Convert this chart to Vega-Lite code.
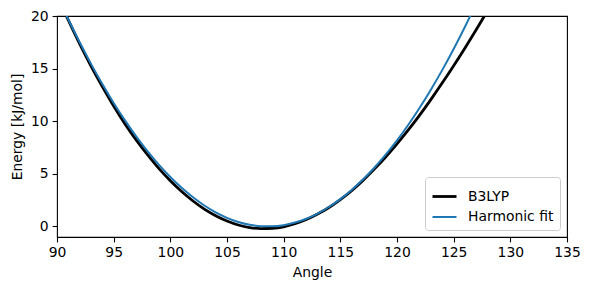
{
  "$schema": "https://vega.github.io/schema/vega-lite/v6.json",
  "autosize": {"type": "none"},
  "width": 510,
  "height": 221,
  "padding": {"left": 57, "top": 16, "right": 23, "bottom": 53},
  "background": "white",
  "config": {
    "font": "DejaVu Sans",
    "view": {"stroke": "black", "strokeWidth": 1.1},
    "axis": {
      "grid": false,
      "domain": false,
      "tickColor": "black",
      "tickWidth": 1.1,
      "tickSize": 4.9,
      "labelColor": "black",
      "labelFontSize": 13.9,
      "labelFont": "DejaVu Sans",
      "labelFlush": false,
      "labelOverlap": false,
      "titleFont": "DejaVu Sans",
      "titleFontSize": 13.9,
      "titleFontWeight": "normal",
      "titleColor": "black",
      "labelPadding": 4
    }
  },
  "data": {
    "values": [
      {"angle": 90, "energy": 22.0, "series": "B3LYP"},
      {"angle": 91, "energy": 19.6, "series": "B3LYP"},
      {"angle": 92, "energy": 17.35, "series": "B3LYP"},
      {"angle": 93, "energy": 15.25, "series": "B3LYP"},
      {"angle": 94, "energy": 13.3, "series": "B3LYP"},
      {"angle": 95, "energy": 11.45, "series": "B3LYP"},
      {"angle": 96, "energy": 9.75, "series": "B3LYP"},
      {"angle": 97, "energy": 8.2, "series": "B3LYP"},
      {"angle": 98, "energy": 6.8, "series": "B3LYP"},
      {"angle": 99, "energy": 5.5, "series": "B3LYP"},
      {"angle": 100, "energy": 4.35, "series": "B3LYP"},
      {"angle": 101, "energy": 3.32, "series": "B3LYP"},
      {"angle": 102, "energy": 2.42, "series": "B3LYP"},
      {"angle": 103, "energy": 1.65, "series": "B3LYP"},
      {"angle": 104, "energy": 1.02, "series": "B3LYP"},
      {"angle": 105, "energy": 0.52, "series": "B3LYP"},
      {"angle": 106, "energy": 0.14, "series": "B3LYP"},
      {"angle": 107, "energy": -0.1, "series": "B3LYP"},
      {"angle": 108, "energy": -0.2, "series": "B3LYP"},
      {"angle": 109, "energy": -0.17, "series": "B3LYP"},
      {"angle": 110, "energy": -0.03, "series": "B3LYP"},
      {"angle": 111, "energy": 0.26, "series": "B3LYP"},
      {"angle": 112, "energy": 0.66, "series": "B3LYP"},
      {"angle": 113, "energy": 1.18, "series": "B3LYP"},
      {"angle": 114, "energy": 1.8, "series": "B3LYP"},
      {"angle": 115, "energy": 2.55, "series": "B3LYP"},
      {"angle": 116, "energy": 3.4, "series": "B3LYP"},
      {"angle": 117, "energy": 4.38, "series": "B3LYP"},
      {"angle": 118, "energy": 5.45, "series": "B3LYP"},
      {"angle": 119, "energy": 6.6, "series": "B3LYP"},
      {"angle": 120, "energy": 7.85, "series": "B3LYP"},
      {"angle": 121, "energy": 9.17, "series": "B3LYP"},
      {"angle": 122, "energy": 10.58, "series": "B3LYP"},
      {"angle": 123, "energy": 12.08, "series": "B3LYP"},
      {"angle": 124, "energy": 13.65, "series": "B3LYP"},
      {"angle": 125, "energy": 15.28, "series": "B3LYP"},
      {"angle": 126, "energy": 16.97, "series": "B3LYP"},
      {"angle": 127, "energy": 18.72, "series": "B3LYP"},
      {"angle": 128, "energy": 20.52, "series": "B3LYP"},
      {"angle": 90, "energy": 21.97, "series": "Harmonic fit"},
      {"angle": 91, "energy": 19.67, "series": "Harmonic fit"},
      {"angle": 92, "energy": 17.5, "series": "Harmonic fit"},
      {"angle": 93, "energy": 15.45, "series": "Harmonic fit"},
      {"angle": 94, "energy": 13.54, "series": "Harmonic fit"},
      {"angle": 95, "energy": 11.74, "series": "Harmonic fit"},
      {"angle": 96, "energy": 10.08, "series": "Harmonic fit"},
      {"angle": 97, "energy": 8.54, "series": "Harmonic fit"},
      {"angle": 98, "energy": 7.13, "series": "Harmonic fit"},
      {"angle": 99, "energy": 5.85, "series": "Harmonic fit"},
      {"angle": 100, "energy": 4.7, "series": "Harmonic fit"},
      {"angle": 101, "energy": 3.67, "series": "Harmonic fit"},
      {"angle": 102, "energy": 2.77, "series": "Harmonic fit"},
      {"angle": 103, "energy": 1.99, "series": "Harmonic fit"},
      {"angle": 104, "energy": 1.34, "series": "Harmonic fit"},
      {"angle": 105, "energy": 0.82, "series": "Harmonic fit"},
      {"angle": 106, "energy": 0.43, "series": "Harmonic fit"},
      {"angle": 107, "energy": 0.16, "series": "Harmonic fit"},
      {"angle": 108, "energy": 0.02, "series": "Harmonic fit"},
      {"angle": 109, "energy": 0.01, "series": "Harmonic fit"},
      {"angle": 110, "energy": 0.12, "series": "Harmonic fit"},
      {"angle": 111, "energy": 0.37, "series": "Harmonic fit"},
      {"angle": 112, "energy": 0.73, "series": "Harmonic fit"},
      {"angle": 113, "energy": 1.23, "series": "Harmonic fit"},
      {"angle": 114, "energy": 1.85, "series": "Harmonic fit"},
      {"angle": 115, "energy": 2.6, "series": "Harmonic fit"},
      {"angle": 116, "energy": 3.47, "series": "Harmonic fit"},
      {"angle": 117, "energy": 4.46, "series": "Harmonic fit"},
      {"angle": 118, "energy": 5.58, "series": "Harmonic fit"},
      {"angle": 119, "energy": 6.82, "series": "Harmonic fit"},
      {"angle": 120, "energy": 8.18, "series": "Harmonic fit"},
      {"angle": 121, "energy": 9.67, "series": "Harmonic fit"},
      {"angle": 122, "energy": 11.28, "series": "Harmonic fit"},
      {"angle": 123, "energy": 13.02, "series": "Harmonic fit"},
      {"angle": 124, "energy": 14.88, "series": "Harmonic fit"},
      {"angle": 125, "energy": 16.87, "series": "Harmonic fit"},
      {"angle": 126, "energy": 18.98, "series": "Harmonic fit"},
      {"angle": 127, "energy": 21.22, "series": "Harmonic fit"}
    ]
  },
  "mark": {"type": "line", "clip": true, "interpolate": "monotone"},
  "encoding": {
    "x": {
      "field": "angle",
      "type": "quantitative",
      "title": "Angle",
      "scale": {"domain": [90, 135], "nice": false, "zero": false},
      "axis": {"values": [90, 95, 100, 105, 110, 115, 120, 125, 130, 135], "titlePadding": 6}
    },
    "y": {
      "field": "energy",
      "type": "quantitative",
      "title": "Energy [kJ/mol]",
      "scale": {"domain": [-1, 20], "nice": false, "zero": false},
      "axis": {"values": [0, 5, 10, 15, 20], "titlePadding": 6}
    },
    "color": {
      "field": "series",
      "type": "nominal",
      "title": null,
      "scale": {"domain": ["B3LYP", "Harmonic fit"], "range": ["black", "#1f77b4"]},
      "legend": {
        "orient": "bottom-right",
        "offset": 7,
        "symbolType": "stroke",
        "symbolSize": 576,
        "symbolStrokeWidth": 2.5,
        "labelFontSize": 13.9,
        "labelColor": "black",
        "labelFont": "DejaVu Sans",
        "labelOffset": 10,
        "strokeColor": "#cccccc",
        "fillColor": "white",
        "cornerRadius": 3,
        "padding": 6,
        "rowPadding": -3
      }
    },
    "strokeWidth": {
      "field": "series",
      "type": "nominal",
      "title": null,
      "scale": {"domain": ["B3LYP", "Harmonic fit"], "range": [2.8, 2.0]},
      "legend": null
    }
  }
}
